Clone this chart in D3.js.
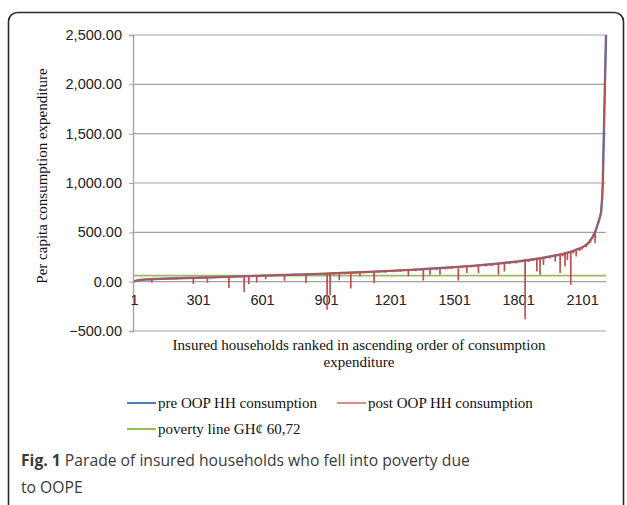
<!doctype html>
<html lang="en">
  <head>
    <meta charset="UTF-8" />
    <title>Parade of insured households</title>
    <script src="https://d3js.org/d3.v7.min.js"></script>
    <style>
      body {
        margin: 0;
        padding: 0;
        background: #fff;
      }
      .tick-label {
        font-family: 'Liberation Sans', Arial, sans-serif;
        font-size: 14.5px;
        fill: #222;
      }
      .serif {
        font-family: 'Liberation Serif', 'Times New Roman', serif;
        font-size: 15px;
        fill: #111;
      }
      .caption {
        font-family: 'Open Sans', 'Noto Sans', sans-serif;
        font-size: 15.7px;
        fill: #3a3a3a;
      }
    </style>
  </head>
  <body>
    <div id="chart"></div>
    <script>
      // pre OOP consumption, sampled along household rank
      const preRanks = [1, 20, 50, 100, 200, 300, 400, 500, 600, 700, 800, 900, 1000, 1100, 1200, 1300, 1400,
        1500, 1600, 1700, 1800, 1900, 2000, 2050, 2100, 2130, 2150, 2165, 2180, 2190, 2195, 2198, 2203, 2208, 2213]
      const preValues = [2, 15, 22, 27, 34, 40, 46, 54, 61, 67, 74, 82, 90, 99, 109, 120, 133,
        147, 163, 182, 205, 235, 275, 305, 345, 390, 450, 520, 620, 700, 850, 1000, 1500, 2000, 2500]

      // households whose consumption dropped after OOP: rank, before, after
      const dropRanks = [85, 150, 200, 240, 279, 310, 345, 380, 420, 446, 470, 517, 539, 576, 600, 618, 650, 706,
        760, 807, 850, 880, 906, 920, 940, 963, 990, 1017, 1040, 1060, 1080, 1126, 1150, 1180, 1220, 1250, 1287,
        1320, 1357, 1388, 1420, 1435, 1460, 1490, 1521, 1540, 1561, 1580, 1615, 1650, 1680, 1709, 1737, 1760,
        1790, 1834, 1850, 1870, 1889, 1904, 1920, 1950, 1975, 1998, 2010, 2021, 2032, 2048, 2060, 2073, 2090,
        2100, 2120, 2140, 2162]
      const dropBefore = [26, 30, 33, 36, 39, 41, 43, 45, 48, 50, 52, 55, 57, 59, 61, 62, 64, 67,
        71, 75, 78, 80, 82, 84, 86, 87, 89, 92, 94, 95, 97, 102, 104, 107, 111, 114, 119,
        122, 127, 131, 135, 138, 141, 145, 150, 153, 157, 160, 166, 172, 178, 184, 191, 196,
        203, 215, 220, 227, 232, 236, 243, 255, 265, 274, 280, 287, 294, 304, 312, 323, 336,
        345, 370, 420, 505]
      const dropAfter = [-7, 20, 22, 28, -23, 30, -10, 35, 38, -65, 40, -108, -25, -8, 50, 25, 55, 10,
        60, -13, 65, 70, -285, -140, 70, 15, 75, -68, 80, 54, 85, -13, 90, 92, 95, 100, 54,
        105, 13, 70, 118, 70, 125, 130, 13, 138, 88, 145, 88, 155, 160, 70, 104, 180,
        185, -380, 200, 210, 104, 70, 170, 235, 205, 88, 255, 155, 220, -30, 285, 256, 310,
        325, 350, 395, 390]

      const povertyLine = 60.72
      const yTicks = [-500, 0, 500, 1000, 1500, 2000, 2500]
      const xTicks = [1, 301, 601, 901, 1201, 1501, 1801, 2101]

      const W = 627
      const H = 505

      const svg = d3.select('#chart').append('svg').attr('width', W).attr('height', H)

      // outer figure frame
      svg
        .append('rect')
        .attr('x', 8.5)
        .attr('y', 12.5)
        .attr('width', 615)
        .attr('height', 540)
        .attr('rx', 9)
        .attr('fill', 'none')
        .attr('stroke', '#2b2b2b')
        .attr('stroke-width', 1.6)

      const x = d3.scaleLinear().domain([1, 2213]).range([134, 606])
      const y = d3.scaleLinear().domain([-500, 2500]).range([331, 35])
      const plotLeft = 133
      const plotRight = 606

      // gridlines
      svg
        .append('g')
        .selectAll('line')
        .data(yTicks)
        .join('line')
        .attr('x1', plotLeft)
        .attr('x2', plotRight)
        .attr('y1', (d) => y(d))
        .attr('y2', (d) => y(d))
        .attr('stroke', '#a3a3a3')
        .attr('stroke-width', 1.2)

      // y axis
      svg
        .append('g')
        .attr('transform', `translate(${plotLeft},0)`)
        .call(
          d3
            .axisLeft(y)
            .tickValues(yTicks)
            .tickSize(4)
            .tickPadding(7)
            .tickFormat((d) => d3.format(',.2f')(d)),
        )
        .call((g) => g.select('.domain').attr('stroke', '#a3a3a3').attr('stroke-width', 1.4))
        .call((g) => g.selectAll('.tick line').attr('stroke', '#a3a3a3'))
        .call((g) =>
          g.selectAll('.tick text').attr('class', 'tick-label').attr('font-size', null).attr('font-family', null),
        )

      // x tick labels (category axis crossing at zero)
      svg
        .append('g')
        .attr('transform', `translate(0,${y(0)})`)
        .call(d3.axisBottom(x).tickValues(xTicks).tickSize(0).tickPadding(13).tickFormat(d3.format('d')))
        .call((g) => g.select('.domain').remove())
        .call((g) =>
          g.selectAll('.tick text').attr('class', 'tick-label').attr('font-size', null).attr('font-family', null),
        )

      // poverty line
      svg
        .append('line')
        .attr('x1', x(1))
        .attr('x2', x(2213))
        .attr('y1', y(povertyLine))
        .attr('y2', y(povertyLine))
        .attr('stroke', '#9bbb59')
        .attr('stroke-width', 1.8)

      const line = d3
        .line()
        .x((d) => x(d[0]))
        .y((d) => y(d[1]))

      const pre = preRanks.map((r, i) => [r, preValues[i]])

      // post OOP series: the pre curve with the drops cut into it
      const post = pre.concat(
        dropRanks.flatMap((r, i) => [
          [r - 0.5, dropBefore[i]],
          [r, dropAfter[i]],
          [r + 0.5, dropBefore[i]],
        ]),
      )
      post.sort((a, b) => a[0] - b[0])

      svg
        .append('path')
        .datum(pre)
        .attr('fill', 'none')
        .attr('stroke', '#4a7ebb')
        .attr('stroke-width', 2.4)
        .attr('d', line)

      svg
        .append('path')
        .datum(post)
        .attr('fill', 'none')
        .attr('stroke', '#c0504d')
        .attr('stroke-width', 1.6)
        .attr('d', line)

      // axis titles
      svg
        .append('text')
        .attr('class', 'serif')
        .attr('text-anchor', 'middle')
        .attr('transform', 'translate(47,176) rotate(-90)')
        .text('Per capita consumption expenditure')

      svg
        .append('text')
        .attr('class', 'serif')
        .attr('text-anchor', 'middle')
        .attr('x', 359)
        .attr('y', 350)
        .text('Insured households ranked in ascending order of consumption')

      svg
        .append('text')
        .attr('class', 'serif')
        .attr('text-anchor', 'middle')
        .attr('x', 359)
        .attr('y', 367)
        .text('expenditure')

      // legend
      const legendItems = [
        { label: 'pre OOP HH consumption', color: '#4a7ebb', x: 127, y: 403 },
        { label: 'post OOP HH consumption', color: '#d98b8a', x: 337, y: 403 },
        { label: 'poverty line GH¢ 60,72', color: '#9bbb59', x: 127, y: 429 },
      ]
      const legend = svg
        .append('g')
        .selectAll('g')
        .data(legendItems)
        .join('g')
        .attr('transform', (d) => `translate(${d.x},${d.y})`)
      legend
        .append('line')
        .attr('x1', 0)
        .attr('x2', 29)
        .attr('stroke', (d) => d.color)
        .attr('stroke-width', 2)
      legend
        .append('text')
        .attr('class', 'serif')
        .attr('x', 31)
        .attr('dy', '0.35em')
        .text((d) => d.label)

      // figure caption
      const cap = svg.append('text').attr('class', 'caption').attr('x', 21).attr('y', 466)
      cap.append('tspan').attr('font-weight', 'bold').text('Fig. 1')
      cap.append('tspan').text(' Parade of insured households who fell into poverty due')
      svg.append('text').attr('class', 'caption').attr('x', 21).attr('y', 493).text('to OOPE')
    </script>
  </body>
</html>
